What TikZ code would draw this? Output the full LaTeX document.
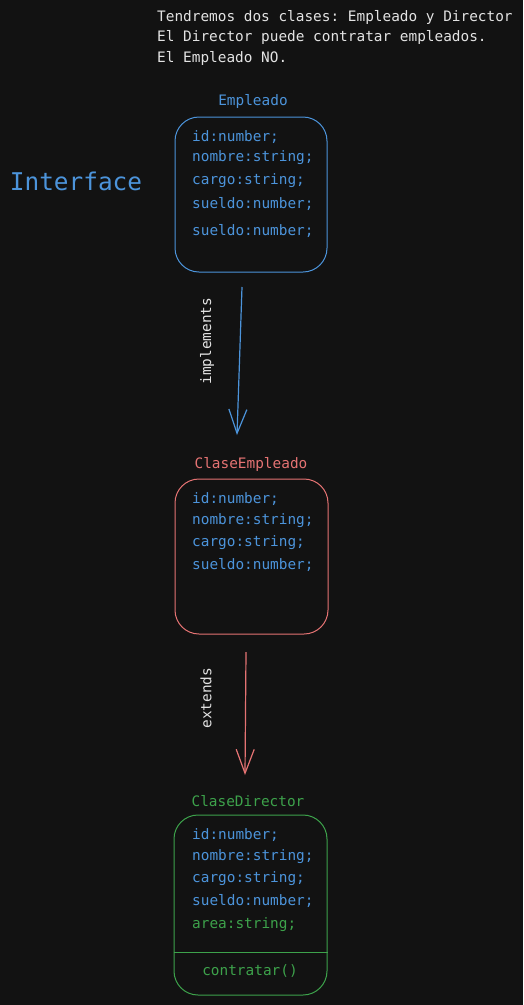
\documentclass[tikz,border=0pt]{standalone}
\usepackage{fontspec}
\setmonofont{DejaVu Sans Mono}
\usetikzlibrary{arrows.meta}
\usetikzlibrary{calc}
\definecolor{fondo}{HTML}{121212}
\definecolor{blanco}{HTML}{E3E3E3}
\definecolor{azul}{HTML}{4C94DB}
\definecolor{rojo}{HTML}{E57373}
\definecolor{verde}{HTML}{3DA24B}

\begin{document}
\begin{tikzpicture}[x=1pt,y=-1pt,
    every node/.style={font=\ttfamily\fontsize{14.4}{20.5}\selectfont, inner sep=0pt},
    classbox/.style={draw, rounded corners=24pt, line width=1pt},
    classtitle/.style={anchor=center},
    member/.style={anchor=west, text=azul},
    arrowline/.style={line width=1.2pt, -{Straight Barb[length=24pt,width=18pt,line width=1.2pt]}}]
    \fill[fondo] (0,0) rectangle (523,1005);
    \useasboundingbox (0,0) rectangle (523,1005);
    % nota
    \node[anchor=north west, align=left, text=blanco] (nota) at (157,10)
        {Tendremos dos clases: Empleado y Director\\El Director puede contratar empleados.\\El Empleado NO.};
    \node[text=azul, font=\ttfamily\fontsize{24.4}{28}\selectfont] (interface) at (76,181) {Interface};
    % Empleado
    \node[classtitle, text=azul] (tEmpleado) at (253,101) {Empleado};
    \node[classbox, draw=azul, minimum width=152pt, minimum height=155pt] (empleado) at (251,194.5) {};
    \node[member] (e1) at (192,137) {id:number;};
    \node[member] (e2) at (192,158) {nombre:string;};
    \node[member] (e3) at (192,181) {cargo:string;};
    \node[member] (e4) at (192,204) {sueldo:number;};
    \node[member] (e5) at (192,231) {sueldo:number;};
    % ClaseEmpleado
    \node[classtitle, text=rojo] (tClaseEmpleado) at (251,464) {ClaseEmpleado};
    \node[classbox, draw=rojo, minimum width=153pt, minimum height=155pt] (claseEmpleado) at (251.5,556.5) {};
    \node[member] (c1) at (192,499) {id:number;};
    \node[member] (c2) at (192,521) {nombre:string;};
    \node[member] (c3) at (192,543) {cargo:string;};
    \node[member] (c4) at (192,565) {sueldo:number;};
    % ClaseDirector
    \node[classtitle, text=verde] (tClaseDirector) at (248,801) {ClaseDirector};
    \node[classbox, draw=verde, minimum width=153pt, minimum height=180pt] (claseDirector) at (250.5,905) {};
    \node[member] (d1) at (192,835) {id:number;};
    \node[member] (d2) at (192,857) {nombre:string;};
    \node[member] (d3) at (192,879) {cargo:string;};
    \node[member] (d4) at (192,901) {sueldo:number;};
    \node[member, text=verde] (d5) at (192,925) {area:string;};
    \coordinate (sep) at (0,952);
    \draw[verde, line width=1pt] (claseDirector.west |- sep) -- (claseDirector.east |- sep);
    \node[text=verde] (d6) at (250,971) {contratar()};
    % relaciones
    \coordinate (implA) at (242,287);
    \coordinate (implB) at (237,435);
    \draw[arrowline, azul] (implA) -- (implB);
    \node[rotate=90, text=blanco] (lImplements) at (207,341) {implements};
    \coordinate (extA) at (246,652);
    \coordinate (extB) at (245,775);
    \draw[arrowline, rojo] (extA) -- (extB);
    \node[rotate=90, text=blanco] (lExtends) at (206,698) {extends};
\end{tikzpicture}
\end{document}
